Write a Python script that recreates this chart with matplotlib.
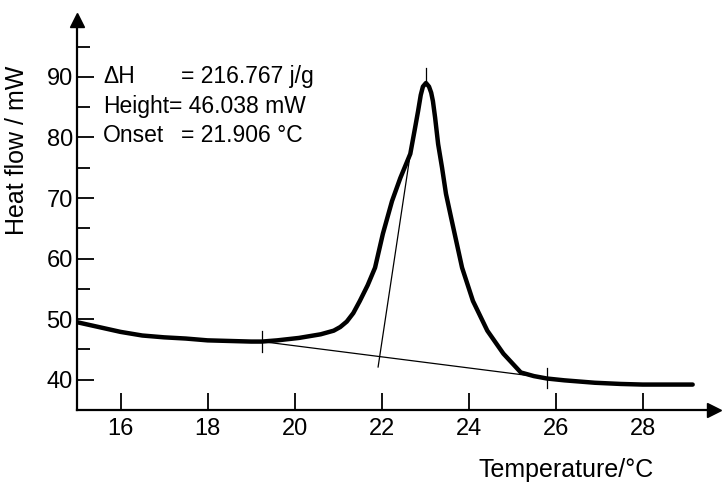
import numpy as np
import matplotlib.pyplot as plt

# DSC 曲線 (読み取り値)
temp = [15.0, 15.5, 16.0, 16.5, 17.0, 17.5, 18.0, 18.5, 19.0, 19.25, 19.6, 20.1,
        20.6, 20.9, 21.05, 21.2, 21.35, 21.5, 21.68, 21.85, 22.03, 22.24, 22.43,
        22.66, 22.77, 22.84, 22.9, 22.95, 23.02, 23.09, 23.14, 23.18, 23.23, 23.3,
        23.39, 23.48, 23.6, 23.85, 24.1, 24.43, 24.8, 25.2, 25.5, 25.8, 26.2, 26.9,
        27.5, 28.0, 28.6, 29.15]
heat = [49.5, 48.7, 47.9, 47.3, 47.0, 46.8, 46.5, 46.4, 46.3, 46.3, 46.5, 46.9,
        47.5, 48.1, 48.7, 49.6, 51.0, 53.0, 55.6, 58.5, 64.1, 69.5, 73.3,
        77.3, 81.6, 84.4, 87.0, 88.4, 89.0, 88.4, 87.4, 86.0, 83.3, 78.9,
        75.0, 70.7, 66.7, 58.5, 53.0, 48.1, 44.3, 41.2, 40.6, 40.2, 39.9, 39.5,
        39.3, 39.2, 39.2, 39.2]

# ベースライン・接線
base_t = [19.25, 25.8]
base_h = [46.3, 40.3]
tan_t = [21.92, 22.66]
tan_h = [42.1, 77.3]
peak_t = 23.02
peak_h = 89.0

labels = ['ΔH', 'Height', 'Onset']
values = ['= 216.767 j/g', '= 46.038 mW', '= 21.906 °C']

xticks = [16, 18, 20, 22, 24, 26, 28]
yticks = [40, 50, 60, 70, 80, 90]
yminor = [45, 55, 65, 75, 85, 95]

plt.rcParams['font.family'] = ['Liberation Sans', 'DejaVu Sans']

fig = plt.figure(figsize=(7.22, 4.84), dpi=100)
ax = fig.add_axes([77 / 722, 74 / 484, 637 / 722, 390 / 484])

ax.plot(temp, heat, color='black', lw=3.2, solid_capstyle='round', solid_joinstyle='round')
ax.plot(base_t, base_h, color='black', lw=0.9)
ax.plot(tan_t, tan_h, color='black', lw=0.9)

# 区切りマーク
for t, h in zip(base_t, base_h):
    ax.plot([t, t], [h - 1.7, h + 1.7], color='black', lw=0.9)
ax.plot([peak_t, peak_t], [peak_h, peak_h + 2.4], color='black', lw=0.9)

ax.set_xlim(15, 29.64)
ax.set_ylim(35, 99.4)

for s in ['top', 'right']:
    ax.spines[s].set_visible(False)
for s in ['left', 'bottom']:
    ax.spines[s].set_linewidth(1.6)

ax.plot(1, 0, '>', color='black', ms=10, transform=ax.transAxes, clip_on=False)
ax.plot(0, 1, '^', color='black', ms=10, transform=ax.transAxes, clip_on=False)

ax.set_xticks(xticks)
ax.set_yticks(yticks)
ax.set_yticks(yminor, minor=True)
ax.tick_params(axis='both', which='major', direction='in', length=12.5, width=1.3,
               labelsize=17)
ax.tick_params(axis='y', which='major', pad=3)
ax.tick_params(axis='x', which='major', pad=6)
ax.tick_params(axis='y', which='minor', direction='in', length=9.5, width=1.3)

ax.set_ylabel('Heat flow / mW', fontsize=18)
ax.yaxis.set_label_coords(-0.076, 0.667)
ax.set_xlabel('Temperature/°C', fontsize=18)
ax.xaxis.set_label_coords(0.768, -0.122)

# 結果テキスト
rows = [90.0, 85.1, 80.3]
val_x = [17.38, 17.12, 17.38]
for lab, val, y, vx in zip(labels, values, rows, val_x):
    ax.text(15.6, y, lab, fontsize=16.5, va='center', ha='left')
    ax.text(vx, y, val, fontsize=16.5, va='center', ha='left')

fig.savefig('out.png', dpi=100)
